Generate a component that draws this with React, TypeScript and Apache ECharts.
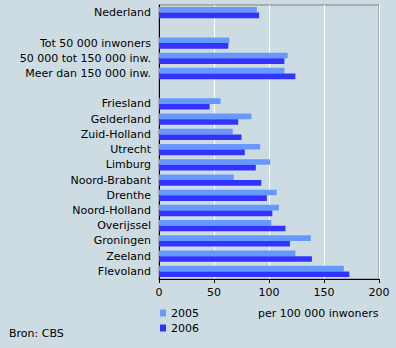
import React, { useEffect, useRef } from "react";
import * as echarts from "echarts";

const categories = [
  "Nederland",
  " ",
  "Tot 50 000 inwoners",
  "50 000 tot 150 000 inw.",
  "Meer dan 150 000 inw.",
  "  ",
  "Friesland",
  "Gelderland",
  "Zuid-Holland",
  "Utrecht",
  "Limburg",
  "Noord-Brabant",
  "Drenthe",
  "Noord-Holland",
  "Overijssel",
  "Groningen",
  "Zeeland",
  "Flevoland",
];

const values2005 = [89, null, 64, 117, 114, null, 56, 84, 67, 92, 101, 68, 107, 109, 102, 138, 124, 168];
const values2006 = [91, null, 63, 114, 124, null, 46, 72, 75, 78, 88, 93, 98, 103, 115, 119, 139, 173];

const xTicks = { min: 0, max: 200, interval: 50 };

const BG = "#cddce2";
const FONT = "DejaVu Sans";

export default function App() {
  const ref = useRef<HTMLDivElement>(null);
  useEffect(() => {
    const chart = echarts.init(ref.current!, null, { renderer: "svg" });
    chart.setOption({
      animation: false,
      backgroundColor: BG,
      textStyle: { fontFamily: FONT },
      grid: {
        left: 159,
        top: 5,
        width: 220,
        height: 274,
        show: true,
        borderColor: "#808080",
        borderWidth: 1,
        backgroundColor: BG,
      },
      legend: {
        orient: "vertical",
        left: 160,
        top: 306,
        padding: 0,
        itemWidth: 6,
        itemHeight: 7,
        itemGap: 1,
        icon: "rect",
        textStyle: { fontFamily: FONT, fontSize: 11, color: "#000", lineHeight: 14 },
        data: ["2005", "2006"],
      },
      xAxis: {
        type: "value",
        min: xTicks.min,
        max: xTicks.max,
        interval: xTicks.interval,
        axisLine: { show: true, lineStyle: { color: "#000", width: 1 } },
        axisTick: { show: true, length: 4, lineStyle: { color: "#000" } },
        axisLabel: { color: "#000", fontSize: 11, fontFamily: FONT, margin: 8 },
        splitLine: { show: true, lineStyle: { color: "#ffffff", width: 1 } },
      },
      yAxis: {
        type: "category",
        inverse: true,
        data: categories,
        axisLine: { show: true, lineStyle: { color: "#000", width: 1 } },
        axisTick: { show: false },
        axisLabel: { color: "#000", fontSize: 11, fontFamily: FONT, margin: 8 },
        splitLine: { show: false },
      },
      series: [
        {
          name: "2005",
          type: "bar",
          data: values2005,
          itemStyle: { color: "#6699ff" },
          barGap: "0%",
          barCategoryGap: "26%",
        },
        {
          name: "2006",
          type: "bar",
          data: values2006,
          itemStyle: { color: "#3333ff" },
          barGap: "0%",
          barCategoryGap: "26%",
        },
      ],
      graphic: [
        {
          type: "text",
          left: 258,
          top: 308,
          style: { text: "per 100 000 inwoners", fontSize: 11, fontFamily: FONT, fill: "#000" },
        },
        {
          type: "text",
          left: 9,
          top: 328,
          style: { text: "Bron: CBS", fontSize: 11, fontFamily: FONT, fill: "#000" },
        },
      ],
    });
    return () => chart.dispose();
  }, []);
  return <div ref={ref} style={{ width: 396, height: 348, position: "absolute", left: 0, top: 0 }} />;
}
